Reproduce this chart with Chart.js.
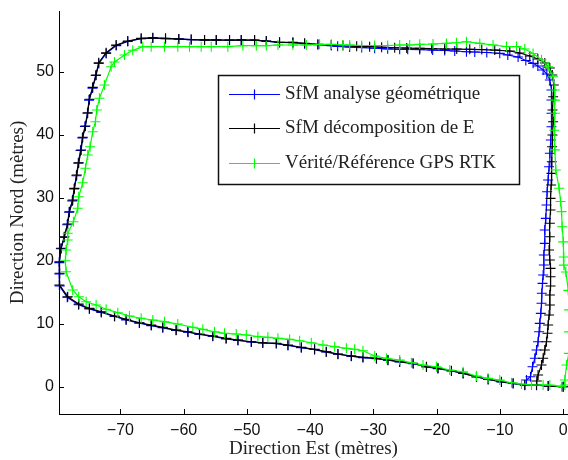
<!DOCTYPE html>
<html lang="fr">
<head>
<meta charset="UTF-8">
<title>Trajectoires SfM / GPS RTK</title>
<script src="https://cdn.jsdelivr.net/npm/chart.js@4.4.1/dist/chart.umd.min.js"></script>
<style>
  html, body { margin: 0; padding: 0; background: #fff; }
  canvas { display: block; }
</style>
</head>
<body>
<canvas id="traj" width="568" height="460"></canvas>
<script>
// Est (m), Nord (m)
const seriesNames = ['SfM analyse géométrique', 'SfM décomposition de E', 'Vérité/Référence GPS RTK'];

const blueTrack = [
  [-5.79,1.06],[-5.16,1.59],[-4.84,3.17],[-4.48,4.51],[-4.21,5.83],[-3.96,7.14],[-3.80,8.73],[-3.69,10.06],
  [-3.53,11.65],[-3.42,13.24],[-3.37,14.83],[-3.26,16.41],[-3.16,17.73],[-3.05,19.32],[-3.05,20.90],[-2.90,22.76],
  [-2.90,24.87],[-2.74,26.73],[-2.63,28.84],[-2.53,30.95],[-2.37,32.81],[-2.22,34.92],[-2.10,37.05],[-1.95,39.16],
  [-1.84,41.27],[-1.84,43.40],[-1.84,45.51],[-1.84,47.10],[-2.10,48.68],[-2.58,49.63],[-3.16,50.27],[-4.00,50.90],
  [-4.75,51.33],[-5.90,51.78],[-7.12,52.33],[-8.75,52.65],[-10.02,52.92],[-12.07,53.05],[-13.97,53.13],[-15.28,53.17],
  [-17.14,53.29],[-18.72,53.37],[-20.62,53.44],[-22.67,53.52],[-24.57,53.56],[-25.84,53.56],[-27.74,53.63],[-29.80,53.73],
  [-31.85,53.84],[-33.75,53.92],[-35.65,54.03],[-36.65,54.15],[-38.77,54.30],[-40.87,54.45],[-42.72,54.60],[-44.83,54.65],
  [-46.93,54.85],[-48.78,55.00],[-50.89,55.05],[-52.74,55.00],[-54.84,55.05],[-56.69,55.05],[-58.80,55.10],[-60.76,55.20],
  [-62.86,55.25],[-64.87,55.35],[-66.71,55.25],[-68.83,54.80],[-70.66,54.15],[-72.25,52.90],[-73.42,51.30],[-73.90,49.40],
  [-74.40,47.40],[-74.95,45.50],[-75.20,43.40],[-75.60,41.30],[-76.00,39.50],[-76.30,37.50],[-76.65,35.50],[-76.95,33.50],
  [-77.30,31.40],[-77.60,29.50],[-78.10,27.70],[-78.40,25.70],[-78.90,23.70],[-79.40,21.90],[-79.65,19.70],[-79.65,17.90],
  [-79.60,16.00],[-78.40,14.20],[-76.60,13.00],[-74.90,12.35],[-73.00,11.80],[-70.90,11.15],[-69.10,10.60],[-67.00,10.10],
  [-65.10,9.70],[-63.30,9.35],[-61.20,8.95],[-59.30,8.65],[-57.50,8.30],[-55.40,8.00],[-53.30,7.60],[-51.40,7.35],
  [-49.30,7.10],[-47.50,6.95],[-45.35,6.85],[-43.50,6.55],[-41.40,6.20],[-39.30,5.90],[-37.45,5.50],[-35.60,5.15],
  [-33.50,4.85],[-31.65,4.62],[-29.50,4.45],[-27.70,4.20],[-25.85,3.93],[-23.70,3.65],[-21.60,3.13],[-19.80,2.88],
  [-17.65,2.50],[-15.80,2.10],[-13.70,1.55],[-11.85,1.15],[-9.75,0.75],[-7.90,0.50],[-6.05,0.25],[-4.20,0.25],
  [-2.35,0.10],[0,0]
];

const blackTrack = [
  [-4.16,0.90],[-3.96,1.86],[-3.42,3.44],[-3.16,4.51],[-2.90,5.83],[-2.63,7.14],[-2.47,8.48],[-2.37,9.79],
  [-2.22,11.38],[-2.10,12.97],[-2.10,14.56],[-1.99,15.98],[-1.99,17.46],[-1.99,18.79],[-2.10,20.11],[-2.22,21.70],
  [-2.10,23.81],[-2.10,25.94],[-1.99,28.05],[-1.99,29.90],[-1.90,32.02],[-1.84,33.87],[-1.79,35.71],[-1.74,38.10],
  [-1.68,39.95],[-1.58,42.06],[-1.68,43.92],[-1.58,46.03],[-1.47,47.89],[-1.71,49.48],[-2.10,50.59],[-2.90,51.38],
  [-4.00,52.02],[-5.27,52.49],[-6.85,52.97],[-8.43,53.29],[-10.81,53.44],[-12.86,53.52],[-14.76,53.56],[-16.82,53.60],
  [-18.72,53.60],[-20.78,53.68],[-22.67,53.71],[-24.73,53.76],[-26.63,53.81],[-28.69,53.89],[-30.59,53.97],[-32.64,54.03],
  [-34.81,54.16],[-36.65,54.24],[-38.77,54.35],[-40.87,54.51],[-42.72,54.67],[-44.83,54.67],[-46.93,54.87],[-48.78,55.03],
  [-50.89,55.03],[-52.74,55.03],[-54.84,55.03],[-56.69,55.03],[-58.80,55.11],[-60.76,55.19],[-62.86,55.30],[-64.87,55.38],
  [-66.71,55.30],[-68.83,54.87],[-70.66,54.24],[-72.25,53.02],[-73.42,51.43],[-73.83,49.48],[-74.37,47.52],[-74.89,45.62],
  [-75.16,43.49],[-75.52,41.38],[-75.95,39.59],[-76.20,37.57],[-76.58,35.56],[-76.90,33.60],[-77.26,31.49],[-77.53,29.63],
  [-78.05,27.78],[-78.32,25.83],[-78.85,23.81],[-79.37,21.97],[-79.64,19.84],[-79.60,18.00],[-79.64,16.14],[-78.32,14.29],
  [-76.58,13.13],[-74.89,12.44],[-73.04,11.90],[-70.93,11.22],[-69.08,10.70],[-66.98,10.16],[-65.13,9.79],[-63.29,9.43],
  [-61.17,9.00],[-59.34,8.73],[-57.48,8.37],[-55.38,8.05],[-53.26,7.68],[-51.42,7.41],[-49.30,7.14],[-47.47,6.98],
  [-45.35,6.89],[-43.51,6.62],[-41.39,6.25],[-39.29,5.94],[-37.44,5.56],[-35.60,5.19],[-33.48,4.87],[-31.65,4.67],
  [-29.53,4.51],[-27.69,4.24],[-25.84,3.97],[-23.73,3.71],[-21.61,3.17],[-19.78,2.92],[-17.66,2.54],[-15.82,2.13],
  [-13.70,1.59],[-11.87,1.17],[-9.75,0.79],[-7.91,0.54],[-6.06,0.27],[-4.21,0.27],[-2.37,0.11],[0,0]
];

const greenTrack = [
  [0.27,1.06],[0.54,3.44],[0.90,5.30],[0.95,8.70],[0.95,12.20],[0.82,15.30],[0.43,18.20],[0.11,19.30],
  [0.11,20.60],[0,23.00],[-0.16,25.40],[-0.25,27.80],[-0.41,29.40],[-0.63,31.50],[-1.16,34.40],[-1.31,37.60],
  [-1.42,40.70],[-1.31,43.40],[-1.31,45.50],[-1.31,47.10],[-1.58,49.20],[-2.37,50.80],[-3.42,51.90],[-4.75,52.90],
  [-6.06,53.60],[-7.37,54.00],[-8.96,54.00],[-11.08,54.24],[-13.18,54.50],[-15.28,54.76],[-16.87,54.60],[-18.45,54.50],
  [-20.57,54.40],[-22.67,54.35],[-24.26,54.24],[-25.84,54.24],[-27.74,54.16],[-29.80,54.16],[-31.85,54.16],[-33.75,54.24],
  [-34.81,54.24],[-36.65,54.35],[-38.50,54.35],[-40.60,54.24],[-42.72,54.24],[-45.09,54.24],[-46.93,54.13],[-48.51,54.13],
  [-50.63,54.13],[-53.01,53.97],[-55.63,53.97],[-57.22,53.97],[-59.07,53.97],[-60.92,53.97],[-63.02,53.97],[-65.13,53.97],
  [-66.46,53.97],[-68.04,53.40],[-69.35,52.65],[-70.93,51.54],[-71.46,50.79],[-72.52,47.89],[-73.31,45.78],[-73.73,43.92],
  [-73.94,42.06],[-74.37,40.48],[-74.78,38.10],[-75.16,36.78],[-75.52,34.67],[-75.95,32.38],[-76.58,30.16],[-76.74,28.32],
  [-77.42,26.19],[-78.32,24.35],[-78.32,23.29],[-78.58,21.70],[-78.69,20.00],[-78.58,18.25],[-77.53,15.35],[-76.58,14.29],
  [-75.41,13.49],[-73.83,12.97],[-72.25,12.29],[-70.41,11.75],[-68.56,11.22],[-66.71,10.86],[-64.87,10.59],[-63.02,10.32],
  [-60.92,9.95],[-58.54,9.43],[-56.96,9.11],[-55.11,8.73],[-53.53,8.48],[-51.68,8.37],[-50.09,8.21],[-48.26,7.94],
  [-46.68,7.84],[-45.09,7.68],[-43.24,7.52],[-41.66,7.30],[-39.81,6.98],[-37.97,6.62],[-36.12,6.35],[-34.27,6.10],
  [-32.96,5.94],[-31.65,5.71],[-29.79,4.87],[-27.94,4.51],[-25.84,4.24],[-23.99,3.81],[-22.15,3.44],[-20.03,3.17],
  [-17.93,2.65],[-15.82,2.38],[-13.70,1.70],[-11.87,1.33],[-10.02,1.06],[-8.16,0.63],[-6.58,0.43],[-5.00,0.27],
  [-3.16,0.27],[-2.10,0.27],[-0.25,0],[0.27,0.27]
];

const seriesColors = ['#0000ff', '#000000', '#00ff00'];
const xTicks = [-70, -60, -50, -40, -30, -20, -10, 0];
const yTicks = [0, 10, 20, 30, 40, 50];

function toPoints(track) {
  return track.map(p => ({ x: p[0], y: p[1] }));
}

function fmtTick(v) {
  return v < 0 ? '\u2212' + Math.abs(v) : String(v);
}

function noPad(s) {
  s.paddingLeft = 0;
  s.paddingRight = 0;
  s.paddingTop = 0;
  s.paddingBottom = 0;
}

// petits traits de graduation vers l'intérieur (style MATLAB)
const inwardTicks = {
  id: 'inwardTicks',
  afterDatasetsDraw(chart) {
    const { ctx, chartArea: a, scales: { x, y } } = chart;
    ctx.save();
    ctx.strokeStyle = '#000';
    ctx.lineWidth = 1;
    ctx.beginPath();
    xTicks.forEach(v => {
      const px = Math.round(x.getPixelForValue(v)) + 0.5;
      ctx.moveTo(px, a.bottom);
      ctx.lineTo(px, a.bottom - 5);
    });
    yTicks.forEach(v => {
      const py = Math.round(y.getPixelForValue(v)) + 0.5;
      ctx.moveTo(a.left, py);
      ctx.lineTo(a.left + 5, py);
    });
    ctx.stroke();
    ctx.restore();
  }
};

// légende encadrée dans le graphique
const boxLegend = {
  id: 'boxLegend',
  afterDraw(chart) {
    const ctx = chart.ctx;
    const bx = 218.5, by = 75.5, bw = 301, bh = 109;
    const rows = [94, 128, 163];
    ctx.save();
    ctx.fillStyle = '#fff';
    ctx.fillRect(bx, by, bw, bh);
    ctx.strokeStyle = '#111';
    ctx.lineWidth = 1.5;
    ctx.strokeRect(bx, by, bw, bh);
    ctx.font = '19px "Liberation Serif", serif';
    ctx.textBaseline = 'middle';
    seriesNames.forEach((name, i) => {
      const yy = rows[i] + 0.5;
      ctx.strokeStyle = seriesColors[i];
      ctx.lineWidth = 1.2;
      ctx.beginPath();
      ctx.moveTo(229, yy); ctx.lineTo(280, yy);
      ctx.moveTo(254.5, yy - 5); ctx.lineTo(254.5, yy + 5);
      ctx.moveTo(249.5, yy); ctx.lineTo(259.5, yy);
      ctx.stroke();
      ctx.fillStyle = '#222';
      ctx.fillText(name, 285, yy);
    });
    ctx.restore();
  }
};

function makeSet(i, track, order) {
  return {
    label: seriesNames[i],
    data: toPoints(track),
    showLine: true,
    borderColor: seriesColors[i],
    backgroundColor: seriesColors[i],
    borderWidth: 1.2,
    pointStyle: 'cross',
    pointRadius: 5,
    pointBorderWidth: 1.1,
    pointBorderColor: seriesColors[i],
    tension: 0,
    clip: false,
    order: order
  };
}

new Chart(document.getElementById('traj').getContext('2d'), {
  type: 'scatter',
  data: {
    datasets: [
      makeSet(0, blueTrack, 3),
      makeSet(1, blackTrack, 2),
      makeSet(2, greenTrack, 1)
    ]
  },
  options: {
    responsive: false,
    animation: false,
    devicePixelRatio: 1,
    layout: { autoPadding: false, padding: { top: 11, right: 0, left: 0, bottom: 0 } },
    plugins: {
      legend: { display: false },
      tooltip: { enabled: false }
    },
    scales: {
      x: {
        type: 'linear',
        min: -79.7,
        max: 0.77,
        afterBuildTicks: s => { s.ticks = xTicks.map(v => ({ value: v })); },
        afterFit: s => { s.height = 46; noPad(s); },
        grid: { drawOnChartArea: false, drawTicks: false },
        border: { color: '#000', width: 1 },
        ticks: {
          font: { family: 'Liberation Sans', size: 16 },
          color: '#111',
          padding: 7,
          maxRotation: 0,
          autoSkip: false,
          callback: v => fmtTick(v)
        },
        title: {
          display: true,
          text: 'Direction Est (mètres)',
          font: { family: 'Liberation Serif', size: 19 },
          color: '#222',
          padding: { top: 0, bottom: 0 }
        }
      },
      y: {
        type: 'linear',
        min: -4.33,
        max: 59.64,
        afterBuildTicks: s => { s.ticks = yTicks.map(v => ({ value: v })); },
        afterFit: s => { s.width = 59; noPad(s); },
        grid: { drawOnChartArea: false, drawTicks: false },
        border: { color: '#000', width: 1 },
        ticks: {
          font: { family: 'Liberation Sans', size: 16 },
          color: '#111',
          padding: 5,
          autoSkip: false,
          callback: v => fmtTick(v)
        },
        title: {
          display: true,
          text: 'Direction Nord (mètres)',
          font: { family: 'Liberation Serif', size: 19 },
          color: '#222',
          padding: { top: 7, bottom: 0 }
        }
      }
    }
  },
  plugins: [inwardTicks, boxLegend]
});
</script>
</body>
</html>
